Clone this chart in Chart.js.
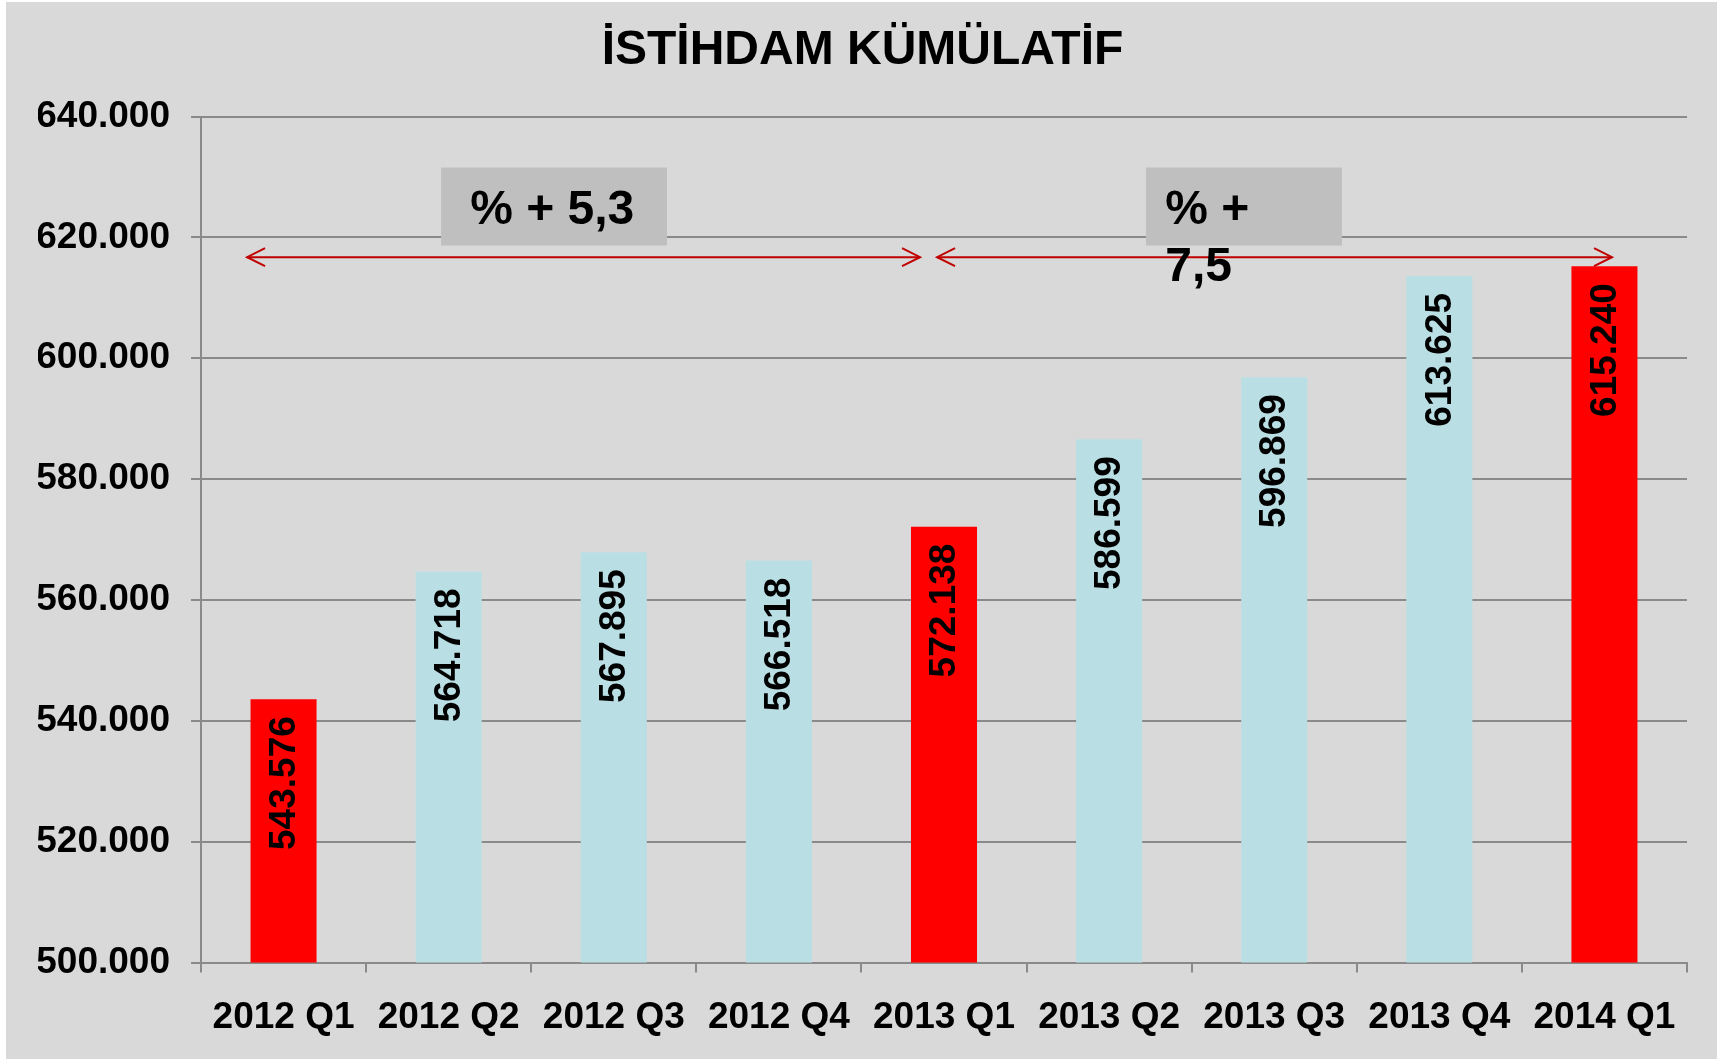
<!DOCTYPE html>
<html>
<head>
<meta charset="utf-8">
<script src="https://cdn.jsdelivr.net/npm/chart.js@4/dist/chart.umd.min.js"></script>
<style>
html,body{margin:0;padding:0;background:#ffffff;overflow:hidden}
#wrap{width:1725px;height:1062px;position:relative}
canvas{display:block}
</style>
</head>
<body>
<div id="wrap"><canvas id="c" width="1725" height="1062"></canvas></div>
<script>
// ---- data ----
const chartTitle = 'İSTİHDAM KÜMÜLATİF';
const categories = ['2012 Q1','2012 Q2','2012 Q3','2012 Q4','2013 Q1','2013 Q2','2013 Q3','2013 Q4','2014 Q1'];
const employment = [543576, 564718, 567895, 566518, 572138, 586599, 596869, 613625, 615240];
const valueLabels = ['543.576','564.718','567.895','566.518','572.138','586.599','596.869','613.625','615.240'];
const yTicks = [500000, 520000, 540000, 560000, 580000, 600000, 620000, 640000];
const yTickLabels = ['500.000','520.000','540.000','560.000','580.000','600.000','620.000','640.000'];
const growthNotes = [['% + 5,3'], ['% +', '7,5']];

// ---- styling ----
const FONT = '"Liberation Sans", Arial, Helvetica, sans-serif';
const RED = '#ff0000';
const LIGHTBLUE = '#b9dfe4';
const GRID = '#8a8a8a';
const ARROW = '#c00000';

// annotation placement (category-index units on x, value units on y)
const notes = [
  { box: [0.954, 2.322, 631565, 618665], textX: 1.13, textY: 622300, arrow: [-0.221, 3.855, 616730] },
  { box: [5.223, 6.41, 631565, 618665], textX: 5.34, textY: 622300, arrow: [3.958, 8.046, 616730] }
];

const panelPlugin = {
  id: 'panel',
  beforeDraw(chart) {
    const c = chart.ctx;
    c.save();
    c.fillStyle = '#ffffff';
    c.fillRect(0, 0, chart.width, chart.height);
    c.fillStyle = '#d9d9d9';
    c.fillRect(6, 2, 1711, 1057);
    c.restore();
  }
};

const barLabelPlugin = {
  id: 'barLabels',
  afterDatasetsDraw(chart) {
    const c = chart.ctx;
    const meta = chart.getDatasetMeta(0);
    c.save();
    c.font = 'bold 37px ' + FONT;
    c.fillStyle = '#000000';
    c.textAlign = 'right';
    c.textBaseline = 'middle';
    meta.data.forEach((bar, i) => {
      c.save();
      c.translate(bar.x + 1, bar.y + 17);
      c.rotate(-Math.PI / 2);
      c.fillText(valueLabels[i], 0, 0);
      c.restore();
    });
    c.restore();
  }
};

const notesPlugin = {
  id: 'notes',
  afterDraw(chart) {
    const c = chart.ctx;
    const xs = chart.scales.x, ys = chart.scales.y;
    c.save();
    notes.forEach((n) => {
      const x0 = xs.getPixelForValue(n.box[0]), x1 = xs.getPixelForValue(n.box[1]);
      const y0 = ys.getPixelForValue(n.box[2]), y1 = ys.getPixelForValue(n.box[3]);
      c.fillStyle = '#bfbfbf';
      c.fillRect(x0, y0, x1 - x0, y1 - y0);
    });
    notes.forEach((n) => {
      const a0 = xs.getPixelForValue(n.arrow[0]), a1 = xs.getPixelForValue(n.arrow[1]);
      const ay = ys.getPixelForValue(n.arrow[2]);
      c.strokeStyle = ARROW;
      c.lineWidth = 2;
      c.beginPath();
      c.moveTo(a0, ay); c.lineTo(a1, ay);
      c.stroke();
      c.beginPath();
      c.moveTo(a0 + 18, ay - 9); c.lineTo(a0, ay); c.lineTo(a0 + 18, ay + 9);
      c.moveTo(a1 - 18, ay - 9); c.lineTo(a1, ay); c.lineTo(a1 - 18, ay + 9);
      c.stroke();
    });
    c.font = 'bold 48px ' + FONT;
    c.fillStyle = '#000000';
    c.textAlign = 'left';
    c.textBaseline = 'alphabetic';
    notes.forEach((n, k) => {
      const tx = xs.getPixelForValue(n.textX);
      const ty = ys.getPixelForValue(n.textY);
      growthNotes[k].forEach((line, j) => {
        c.fillText(line, tx, ty + j * 57);
      });
    });
    c.restore();
  }
};

new Chart(document.getElementById('c'), {
  type: 'bar',
  data: {
    labels: categories,
    datasets: [{
      label: 'İstihdam',
      data: employment,
      backgroundColor: categories.map(l => l.endsWith('Q1') ? RED : LIGHTBLUE),
      borderWidth: 0,
      barPercentage: 0.4,
      categoryPercentage: 1.0
    }]
  },
  options: {
    responsive: false,
    animation: false,
    devicePixelRatio: 1,
    layout: { padding: { left: 38, right: 38, top: 0, bottom: 0 } },
    plugins: {
      legend: { display: false },
      tooltip: { enabled: false },
      title: {
        display: true,
        text: chartTitle,
        color: '#000000',
        font: { family: FONT, size: 48, weight: 'bold' },
        padding: { top: 22, bottom: 37 }
      }
    },
    scales: {
      x: {
        grid: { offset: true, drawOnChartArea: false, drawTicks: true, tickLength: 10, color: GRID, lineWidth: 2 },
        border: { display: true, color: GRID, width: 2 },
        ticks: { color: '#000000', font: { family: FONT, size: 37, weight: 'bold' }, padding: 23, maxRotation: 0, autoSkip: false },
        afterFit(scale) { scale.height = 99.5; }
      },
      y: {
        min: 500000,
        max: 640000,
        afterBuildTicks(scale) { scale.ticks = yTicks.map(v => ({ value: v })); },
        grid: { color: GRID, lineWidth: 2, tickLength: 10, drawTicks: true },
        border: { display: true, color: GRID, width: 2 },
        ticks: {
          color: '#000000',
          font: { family: FONT, size: 37, weight: 'bold' },
          padding: 21,
          callback: (v) => yTickLabels[yTicks.indexOf(v)]
        },
        afterFit(scale) { scale.width = 163; }
      }
    }
  },
  plugins: [panelPlugin, barLabelPlugin, notesPlugin]
});
</script>
</body>
</html>
